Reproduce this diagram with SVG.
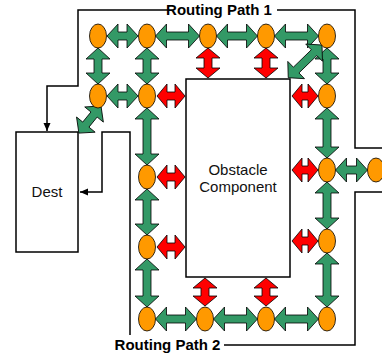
<svg xmlns="http://www.w3.org/2000/svg" width="382" height="356" viewBox="0 0 382 356">
<defs>
<style>
.ln{fill:none;stroke:#000;stroke-width:1.5}
.box{fill:#fff;stroke:#000;stroke-width:1.5}
.g{fill:#339966;stroke:#000;stroke-width:0.8;stroke-linejoin:miter}
.r{fill:#ff0000;stroke:#000;stroke-width:0.8}
.ov{fill:#ff9900;stroke:#000;stroke-width:0.8}
.t{font-family:"Liberation Sans",Arial,sans-serif;font-size:15px;fill:#111;text-anchor:middle}
.tb{font-family:"Liberation Sans",Arial,sans-serif;font-size:15px;font-weight:bold;fill:#000;text-anchor:middle}
</style>
<marker id="ah" markerUnits="userSpaceOnUse" markerWidth="8" markerHeight="8" refX="8" refY="4" orient="auto">
<path d="M0,0.5 L8,4 L0,7.5 Z" fill="#000"/>
</marker>
</defs>
<rect width="382" height="356" fill="#fff"/>

<g id="paths">
<path class="ln" d="M168,10 H78 V86 H47 V131" marker-end="url(#ah)"/>
<path class="ln" d="M277,10 H355 V148 H382"/>
<path class="ln" d="M382,192 H355 V345 H224"/>
<path class="ln" d="M130,335 V132 H102 V192 H80" marker-end="url(#ah)"/>
</g>

<g id="dest"><rect class="box" x="16" y="132" width="62" height="120"/><text class="t" x="47" y="197">Dest</text></g>
<g id="obstacle"><rect class="box" x="186" y="79" width="104" height="198"/><text class="t" x="238" y="174.5">Obstacle</text><text class="t" x="238" y="192">Component</text></g>

<g id="labels">
<text class="tb" x="219" y="14.5">Routing Path 1</text>
<text class="tb" x="167.5" y="350">Routing Path 2</text>
</g>

<g id="connectors">
<!-- green horizontal -->
<path class="g" transform="translate(107,36)" d="M0,0L11,-12V-4H20V-12L31,0L20,12V4H11V12Z"/>
<path class="g" transform="translate(155.5,36)" d="M0,0L11,-12V-4H33V-12L44,0L33,12V4H11V12Z"/>
<path class="g" transform="translate(216.5,36)" d="M0,0L11,-12V-4H30V-12L41,0L30,12V4H11V12Z"/>
<path class="g" transform="translate(274.5,36)" d="M0,0L11,-12V-4H33V-12L44,0L33,12V4H11V12Z"/>
<path class="g" transform="translate(107,96)" d="M0,0L11,-12V-4H20V-12L31,0L20,12V4H11V12Z"/>
<path class="g" transform="translate(335.5,170)" d="M0,0L11,-12V-4H21V-12L32,0L21,12V4H11V12Z"/>
<path class="g" transform="translate(155.5,319)" d="M0,0L11,-12V-4H30V-12L41,0L30,12V4H11V12Z"/>
<path class="g" transform="translate(213.5,319)" d="M0,0L11,-12V-4H33V-12L44,0L33,12V4H11V12Z"/>
<path class="g" transform="translate(274.5,319)" d="M0,0L11,-12V-4H33V-12L44,0L33,12V4H11V12Z"/>
<!-- green vertical -->
<path class="g" transform="translate(98,48) rotate(90)" d="M0,0L11,-12V-4H25V-12L36,0L25,12V4H11V12Z"/>
<path class="g" transform="translate(147,48) rotate(90)" d="M0,0L11,-12V-4H25V-12L36,0L25,12V4H11V12Z"/>
<path class="g" transform="translate(147,108) rotate(90)" d="M0,0L11,-12V-4H46V-12L57,0L46,12V4H11V12Z"/>
<path class="g" transform="translate(147,189) rotate(90)" d="M0,0L11,-12V-4H35V-12L46,0L35,12V4H11V12Z"/>
<path class="g" transform="translate(147,259) rotate(90)" d="M0,0L11,-12V-4H37V-12L48,0L37,12V4H11V12Z"/>
<path class="g" transform="translate(327,48) rotate(90)" d="M0,0L11,-12V-4H25V-12L36,0L25,12V4H11V12Z"/>
<path class="g" transform="translate(327,108) rotate(90)" d="M0,0L11,-12V-4H39V-12L50,0L39,12V4H11V12Z"/>
<path class="g" transform="translate(327,182) rotate(90)" d="M0,0L11,-12V-4H36V-12L47,0L36,12V4H11V12Z"/>
<path class="g" transform="translate(327,253) rotate(90)" d="M0,0L11,-12V-4H43V-12L54,0L43,12V4H11V12Z"/>
<!-- green diagonal -->
<path class="g" transform="translate(322,45) rotate(135.9)" d="M0,0L11,-12V-4H36V-12L47,0L36,12V4H11V12Z"/>
<path class="g" transform="translate(101,106) rotate(129.2)" d="M0,0L11,-12V-4H24V-12L35,0L24,12V4H11V12Z"/>
<!-- red -->
<path class="r" transform="translate(157,96)" d="M0,0L10,-12V-4H18V-12L28,0L18,12V4H10V12Z"/>
<path class="r" transform="translate(157,177)" d="M0,0L10,-12V-4H18V-12L28,0L18,12V4H10V12Z"/>
<path class="r" transform="translate(157,247)" d="M0,0L10,-12V-4H18V-12L28,0L18,12V4H10V12Z"/>
<path class="r" transform="translate(292,96)" d="M0,0L10,-12V-4H16V-12L26,0L16,12V4H10V12Z"/>
<path class="r" transform="translate(292,170)" d="M0,0L10,-12V-4H16V-12L26,0L16,12V4H10V12Z"/>
<path class="r" transform="translate(292,241)" d="M0,0L10,-12V-4H16V-12L26,0L16,12V4H10V12Z"/>
<path class="r" transform="translate(208,48) rotate(90)" d="M0,0L10,-12V-4H20V-12L30,0L20,12V4H10V12Z"/>
<path class="r" transform="translate(266,48) rotate(90)" d="M0,0L10,-12V-4H20V-12L30,0L20,12V4H10V12Z"/>
<path class="r" transform="translate(205,278) rotate(90)" d="M0,0L10,-12V-4H18V-12L28,0L18,12V4H10V12Z"/>
<path class="r" transform="translate(266,278) rotate(90)" d="M0,0L10,-12V-4H18V-12L28,0L18,12V4H10V12Z"/>
</g>

<g id="nodes">
<ellipse id="n1" class="ov" cx="98" cy="36" rx="8.5" ry="12"/>
<ellipse id="n2" class="ov" cx="147" cy="36" rx="8.5" ry="12"/>
<ellipse id="n3" class="ov" cx="208" cy="36" rx="8.5" ry="12"/>
<ellipse id="n4" class="ov" cx="266" cy="36" rx="8.5" ry="12"/>
<ellipse id="n5" class="ov" cx="327" cy="36" rx="8.5" ry="12"/>
<ellipse id="n6" class="ov" cx="98" cy="96" rx="8.5" ry="12"/>
<ellipse id="n7" class="ov" cx="147" cy="96" rx="8.5" ry="12"/>
<ellipse id="n8" class="ov" cx="327" cy="96" rx="8.5" ry="12"/>
<ellipse id="n9" class="ov" cx="147" cy="177" rx="8.5" ry="12"/>
<ellipse id="n10" class="ov" cx="147" cy="247" rx="8.5" ry="12"/>
<ellipse id="n11" class="ov" cx="147" cy="319" rx="8.5" ry="12"/>
<ellipse id="n12" class="ov" cx="327" cy="170" rx="8.5" ry="12"/>
<ellipse id="n13" class="ov" cx="327" cy="241" rx="8.5" ry="12"/>
<ellipse id="n14" class="ov" cx="327" cy="319" rx="8.5" ry="12"/>
<ellipse id="n15" class="ov" cx="205" cy="319" rx="8.5" ry="12"/>
<ellipse id="n16" class="ov" cx="266" cy="319" rx="8.5" ry="12"/>
<ellipse id="n17" class="ov" cx="376" cy="170" rx="8.5" ry="12"/>
</g>
</svg>
